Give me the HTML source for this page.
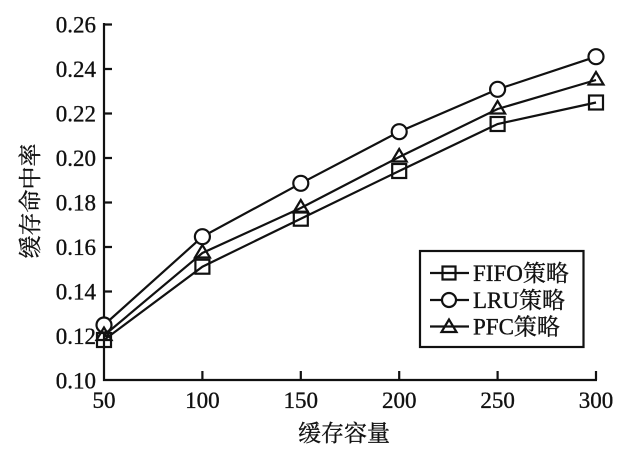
<!DOCTYPE html>
<html><head><meta charset="utf-8"><style>
html,body{margin:0;padding:0;background:#fff;}
svg{display:block;}
text{font-family:"Liberation Serif","Noto Serif CJK SC","Noto Sans CJK SC",serif;fill:#111;stroke:#111;stroke-width:0.35;}
</style></head><body>
<svg width="639" height="454" viewBox="0 0 639 454" xmlns="http://www.w3.org/2000/svg">
<rect width="639" height="454" fill="#fff"/>
<g stroke="#111" stroke-width="2.2" fill="none">
<polyline points="104,23 104,380 597,380"/>
<path d="M104,24.5h8 M104,69h8 M104,113.5h8 M104,158h8 M104,202.5h8 M104,247h8 M104,291.5h8 M104,336h8"/>
<path d="M202.4,380v-9 M300.8,380v-9 M399.2,380v-9 M497.6,380v-9 M596,380v-9"/>
</g>
<g font-size="23" text-anchor="end">
<text x="96" y="32.5">0.26</text>
<text x="96" y="77">0.24</text>
<text x="96" y="121.5">0.22</text>
<text x="96" y="166">0.20</text>
<text x="96" y="210.5">0.18</text>
<text x="96" y="255">0.16</text>
<text x="96" y="299.5">0.14</text>
<text x="96" y="344">0.12</text>
<text x="96" y="388.5">0.10</text>
</g>
<g font-size="23" text-anchor="middle">
<text x="104" y="408">50</text>
<text x="202.4" y="408">100</text>
<text x="300.8" y="408">150</text>
<text x="399.2" y="408">200</text>
<text x="497.6" y="408">250</text>
<text x="596" y="408">300</text>
<text x="344" y="441">缓存容量</text>
<text transform="translate(38,201) rotate(-90)">缓存命中率</text>
</g>
<g stroke="#111" stroke-width="2.2" fill="none">
<polyline points="104,325 202.4,236.7 300.8,183.3 399.2,131.7 497.6,89.3 596,56.7"/>
<polyline points="104,335.5 202.4,253 300.8,208 399.2,157 497.6,109 596,80"/>
<polyline points="104,340 202.4,266.7 300.8,218.7 399.2,171 497.6,124 596,102.5"/>
</g>
<g stroke="#111" stroke-width="2.2" fill="#fff">
<circle cx="104" cy="325" r="7.5"/><circle cx="202.4" cy="236.7" r="7.5"/><circle cx="300.8" cy="183.3" r="7.5"/><circle cx="399.2" cy="131.7" r="7.5"/><circle cx="497.6" cy="89.3" r="7.5"/><circle cx="596" cy="56.7" r="7.5"/>
<g fill="none">
<path d="M104,327.5 l-7.5,12.5 h15 z"/>
<path d="M202.4,245 l-7.5,12.5 h15 z"/>
<path d="M300.8,200 l-7.5,12.5 h15 z"/>
<path d="M399.2,149 l-7.5,12.5 h15 z"/>
<path d="M497.6,101 l-7.5,12.5 h15 z"/>
<path d="M596,72 l-7.5,12.5 h15 z"/>
</g>
<g fill="none">
<rect x="97" y="333" width="14" height="14"/>
<rect x="195.4" y="259.7" width="14" height="14"/>
<rect x="293.8" y="211.7" width="14" height="14"/>
<rect x="392.2" y="164" width="14" height="14"/>
<rect x="490.6" y="117" width="14" height="14"/>
<rect x="589" y="95.5" width="14" height="14"/>
</g>
</g>
<rect x="420" y="251" width="163.5" height="96" fill="#fff" stroke="#111" stroke-width="2.2"/>
<g stroke="#111" stroke-width="2.2" fill="#fff">
<path d="M430,273h39 M430,300h39 M430,326.5h39" fill="none"/>
<rect x="442.5" y="266.5" width="13" height="13" fill="none"/>
<circle cx="449" cy="300" r="7"/>
<path d="M449,319.5 l-7.5,12.5 h15 z" fill="none"/>
</g>
<g font-size="23">
<text x="473" y="281">FIFO策略</text>
<text x="473" y="308">LRU策略</text>
<text x="473" y="334.5">PFC策略</text>
</g>
</svg>
</body></html>
